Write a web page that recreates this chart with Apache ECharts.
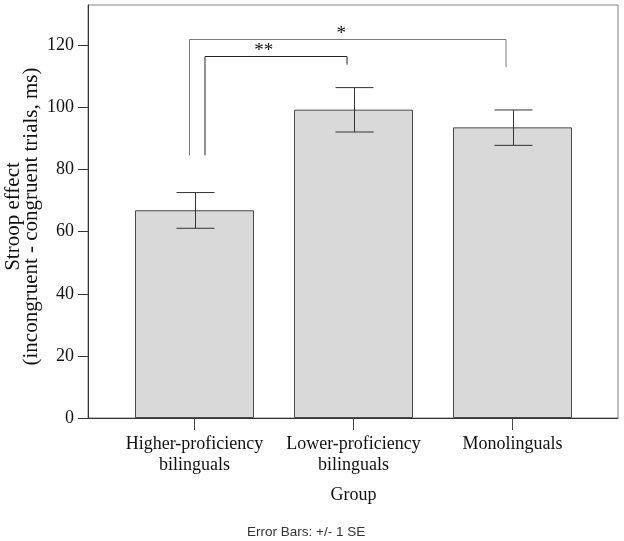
<!DOCTYPE html>
<html>
<head>
<meta charset="utf-8">
<script src="https://cdn.jsdelivr.net/npm/echarts@6/dist/echarts.min.js"></script>
<style>html,body{margin:0;padding:0;background:#fff}#c{width:624px;height:541px}</style>
</head>
<body>
<div id="c"></div>
<script>
// ---- data ----
const categories = ['Higher-proficiency\nbilinguals', 'Lower-proficiency\nbilinguals', 'Monolinguals'];
const means = [66.9, 99.3, 93.6];
const seLow = [61.1, 92.1, 87.8];
const seHigh = [72.6, 106.4, 99.2];
const yTicks = [0, 20, 40, 60, 80, 100, 120];
// significance brackets
const bracketFrom = [0, 0];
const bracketTo = [2, 1];
const bracketLeftEnd = [84.6, 84.6];
const bracketTop = [122.1, 116.7];
const bracketRightEnd = [113.0, 113.8];
const bracketLabels = ['*', '**'];
const bracketLabelAt = [0.923, 0.436];

// ---- style constants ----
const SERIF = "'Times New Roman', 'Liberation Serif', serif";
const bracketLeftOffsetPx = [-5, 10.5];
const bracketRightOffsetPx = -6.5;
const bracketColors = ['#7a7a7a', '#222'];

const chart = echarts.init(document.getElementById('c'), null, {renderer: 'canvas'});
const YMAX = 133;

chart.setOption({
  animation: false,
  backgroundColor: '#fff',
  grid: [
    {left: 88, right: 6, top: 5, bottom: 123, show: true, borderColor: '#808080', borderWidth: 1,
     backgroundColor: 'transparent', containLabel: false, outerBoundsMode: 'none'},
    {left: 115, width: 477, top: 5, bottom: 123, containLabel: false, outerBoundsMode: 'none'}
  ],
  xAxis: [
    {gridIndex: 0, type: 'value', min: 0, max: 1,
     axisLine: {show: true, lineStyle: {color: '#333', width: 1}},
     axisTick: {show: false}, axisLabel: {show: false}, splitLine: {show: false}},
    {gridIndex: 1, type: 'category', data: categories,
     axisLine: {show: false},
     axisTick: {show: true, alignWithLabel: true, length: 12, lineStyle: {color: '#444'}},
     axisLabel: {interval: 0, fontFamily: SERIF, fontSize: 18, color: '#111', lineHeight: 21, margin: 16, hideOverlap: false},
     name: 'Group', nameLocation: 'middle', nameGap: 68, nameMoveOverlap: false,
     nameTextStyle: {fontFamily: SERIF, fontSize: 18, color: '#111'}}
  ],
  yAxis: [
    {gridIndex: 0, type: 'value', min: 0, max: YMAX, interval: 20,
     axisLine: {show: true, lineStyle: {color: '#333', width: 1}},
     axisTick: {show: true, length: 10, customValues: yTicks, lineStyle: {color: '#333'}},
     axisLabel: {fontFamily: SERIF, fontSize: 18, color: '#111', margin: 14, customValues: yTicks},
     splitLine: {show: false},
     name: 'Stroop effect\n(incongruent - congruent trials, ms)',
     nameLocation: 'middle', nameGap: 48, nameMoveOverlap: false,
     nameTextStyle: {fontFamily: SERIF, fontSize: 21, color: '#111', lineHeight: 18, padding: [0, 10, 0, 0]}},
    {gridIndex: 1, type: 'value', min: 0, max: YMAX, show: false}
  ],
  series: [
    {type: 'bar', xAxisIndex: 1, yAxisIndex: 1, data: means, barWidth: 119,
     itemStyle: {color: '#d9d9d9', borderColor: '#4a4a4a', borderWidth: 1}, z: 2},
    {type: 'custom', xAxisIndex: 1, yAxisIndex: 1, z: 3,
     data: categories.map((c, i) => [i, seLow[i], seHigh[i]]),
     renderItem: function (params, api) {
       const lo = api.coord([api.value(0), api.value(1)]);
       const hi = api.coord([api.value(0), api.value(2)]);
       const x = Math.round(lo[0]) + 0.5, cap = 19;
       const st = {stroke: '#333', lineWidth: 1};
       return {type: 'group', children: [
         {type: 'line', shape: {x1: x, y1: lo[1], x2: x, y2: hi[1]}, style: st},
         {type: 'line', shape: {x1: x - cap, y1: hi[1], x2: x + cap, y2: hi[1]}, style: st},
         {type: 'line', shape: {x1: x - cap, y1: lo[1], x2: x + cap, y2: lo[1]}, style: st}
       ]};
     }},
    {type: 'custom', xAxisIndex: 1, yAxisIndex: 1, z: 3,
     data: bracketLabels.map((l, i) => [bracketFrom[i], bracketTo[i], bracketLeftEnd[i], bracketTop[i], bracketRightEnd[i], bracketLabelAt[i]]),
     renderItem: function (params, api) {
       const i = params.dataIndex;
       const a = api.coord([api.value(0), api.value(2)]);
       const t1 = api.coord([api.value(0), api.value(3)]);
       const b = api.coord([api.value(1), api.value(4)]);
       const c0 = api.coord([0, 0])[0], c1 = api.coord([1, 0])[0];
       const xl = a[0] + bracketLeftOffsetPx[i];
       const xr = b[0] + bracketRightOffsetPx;
       const yt = Math.round(t1[1]) + 0.5;
       const lx = c0 + (c1 - c0) * api.value(5);
       return {type: 'group', children: [
         {type: 'polyline', shape: {points: [[xl, a[1]], [xl, yt], [xr, yt], [xr, b[1]]]},
          style: {stroke: bracketColors[i], lineWidth: 1, fill: null}},
         {type: 'text', style: {text: bracketLabels[i], x: lx, y: yt - 5, align: 'center', verticalAlign: 'middle',
           font: '19px ' + SERIF, fill: '#111'}}
       ]};
     }}
  ],
  graphic: [
    {type: 'text', left: 247, top: 525, style: {text: 'Error Bars: +/- 1 SE', font: '13.5px "Liberation Sans", Arial, sans-serif', fill: '#333'}}
  ]
});
</script>
</body>
</html>
